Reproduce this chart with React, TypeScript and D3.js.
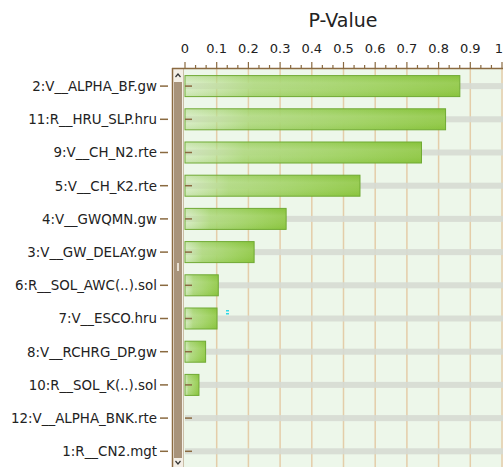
import React from "react";
import * as d3 from "d3";

const categories = [
  "2:V__ALPHA_BF.gw",
  "11:R__HRU_SLP.hru",
  "9:V__CH_N2.rte",
  "5:V__CH_K2.rte",
  "4:V__GWQMN.gw",
  "3:V__GW_DELAY.gw",
  "6:R__SOL_AWC(..).sol",
  "7:V__ESCO.hru",
  "8:V__RCHRG_DP.gw",
  "10:R__SOL_K(..).sol",
  "12:V__ALPHA_BNK.rte",
  "1:R__CN2.mgt",
];
const pValues = [0.867, 0.822, 0.746, 0.552, 0.319, 0.218, 0.105, 0.101, 0.065, 0.044, 0, 0];
const tickValues = [0, 0.1, 0.2, 0.3, 0.4, 0.5, 0.6, 0.7, 0.8, 0.9, 1];
const title = "P-Value";

const W = 503;
const H = 467;
const FONT = "DejaVu Sans, Verdana, sans-serif";

export default function App() {
  const x = d3.scaleLinear().domain([0, 1]).range([185, 502]);
  const y = d3.scaleBand<string>().domain(categories).range([69.5, 69.5 + 12 * 33.2]).paddingInner(0).paddingOuter(0);
  const bw = y.bandwidth();
  const barH = 21;
  const minor = d3.range(0, 31).map((i) => i / 30);
  const brown = "#8a6a40";
  const fmt = (v: number) => (v === 0 ? "0" : v === 1 ? "1" : d3.format(".1f")(v));

  return (
    <svg width={W} height={H} style={{ position: "absolute", left: 0, top: 0, background: "#fff" }}>
      <defs>
        <linearGradient id="barGrad" x1="0" x2="1" y1="0" y2="0">
          <stop offset="0" stopColor="#b8de8e" stopOpacity="0.45" />
          <stop offset="0.25" stopColor="#a8d672" stopOpacity="0.9" />
          <stop offset="0.7" stopColor="#9acf58" stopOpacity="1" />
          <stop offset="1" stopColor="#8cc63f" stopOpacity="1" />
        </linearGradient>
        <linearGradient id="barV" x1="0" x2="0" y1="0" y2="1">
          <stop offset="0" stopColor="#6fae2e" stopOpacity="0.12" />
          <stop offset="0.35" stopColor="#ffffff" stopOpacity="0.12" />
          <stop offset="0.65" stopColor="#ffffff" stopOpacity="0.08" />
          <stop offset="1" stopColor="#6fae2e" stopOpacity="0.12" />
        </linearGradient>
      </defs>

      {/* title */}
      <text x={343} y={27} textAnchor="middle" fontFamily={FONT} fontSize={19} fill="#222">
        {title}
      </text>

      {/* tick labels */}
      {tickValues.map((t) => (
        <text key={"tl" + t} x={Math.min(x(t), 499)} y={53} textAnchor="middle" fontFamily={FONT} fontSize={13} fill="#222">
          {fmt(t)}
        </text>
      ))}

      {/* plot background */}
      <rect x={183} y={68} width={W - 183} height={H - 68} fill="#edf7ea" />

      {/* vertical grid lines */}
      {tickValues.slice(1).map((t) => (
        <line key={"g" + t} x1={x(t)} x2={x(t)} y1={68} y2={H} stroke="#e4c9a3" strokeWidth={1.5} opacity={0.9} />
      ))}

      {/* gray tracks */}
      {categories.map((c) => (
        <rect key={"tr" + c} x={x(0)} y={(y(c) as number) + bw / 2 - 3} width={W - x(0)} height={6} fill="#d6dad3" opacity={0.9} />
      ))}

      {/* bars */}
      {categories.map((c, i) => {
        const v = pValues[i];
        if (v <= 0) return null;
        const by = (y(c) as number) + bw / 2 - barH / 2;
        return (
          <g key={"b" + c}>
            <rect x={x(0)} y={by} width={x(v) - x(0)} height={barH} fill="url(#barGrad)" stroke="#6fa932" strokeWidth={1} />
            <rect x={x(0) + 0.5} y={by + 0.5} width={x(v) - x(0) - 1} height={barH - 1} fill="url(#barV)" />
          </g>
        );
      })}

      {/* inner row ticks */}
      {categories.map((c) => (
        <line key={"it" + c} x1={185} x2={192} y1={(y(c) as number) + bw / 2} y2={(y(c) as number) + bw / 2} stroke={brown} strokeWidth={1.5} />
      ))}

      {/* scrollbar */}
      <rect x={172} y={68} width={11} height={H - 68} fill="#f4efe6" />
      <rect x={174} y={82} width={8} height={376} fill="#a8937a" />
      <line x1={183.5} x2={183.5} y1={68} y2={H} stroke="#cbbfa8" strokeWidth={1} />
      <path d="M175.5,77 L178,74 L180.5,77" fill="none" stroke="#333" strokeWidth={1.2} />
      <path d="M175.5,461 L178,464 L180.5,461" fill="none" stroke="#333" strokeWidth={1.2} />
      <rect x={177} y={263} width={2} height={8} fill="#e8e0d2" />
      <line x1={172.5} x2={172.5} y1={68} y2={H} stroke={brown} strokeWidth={1.5} />

      {/* frame top + ticks */}
      <line x1={172} x2={W} y1={68.5} y2={68.5} stroke={brown} strokeWidth={1.5} />
      {minor.map((t, i) => (
        <line key={"mt" + i} x1={x(t)} x2={x(t)} y1={i % 3 === 0 ? 62 : 65} y2={68} stroke={brown} strokeWidth={1.2} />
      ))}

      {/* outer row ticks */}
      {categories.map((c) => (
        <line key={"ot" + c} x1={160} x2={168} y1={(y(c) as number) + bw / 2} y2={(y(c) as number) + bw / 2} stroke={brown} strokeWidth={1.5} />
      ))}

      {/* row labels */}
      {categories.map((c) => (
        <text key={"l" + c} x={157} y={(y(c) as number) + bw / 2 + 4.8} textAnchor="end" fontFamily={FONT} fontSize={13.4} fill="#222">
          {c}
        </text>
      ))}

      {/* small cyan artifact */}
      <rect x={226} y={310} width={3} height={1.5} fill="#30d8e8" />
      <rect x={226} y={313} width={3} height={1.5} fill="#30d8e8" />
    </svg>
  );
}
